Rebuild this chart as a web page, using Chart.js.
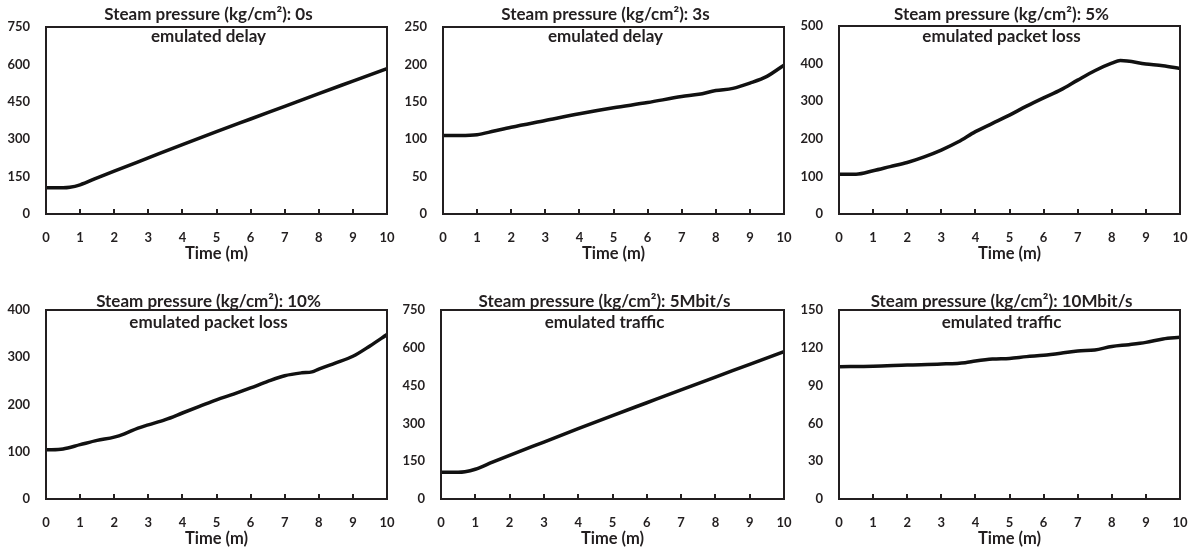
<!DOCTYPE html>
<html>
<head>
<meta charset="utf-8">
<script src="https://cdn.jsdelivr.net/npm/chart.js"></script>
<style>
    body { margin: 0; background: #fff; width: 1190px; height: 548px; position: relative; overflow: hidden; }
    canvas { position: absolute; }
</style>
</head>
<body>
<script>
// Dados (tempo em minutos, pressão em kg/cm²)
const tempo0s = [0, 0.5, 0.7, 1, 1.5, 2, 3, 4, 5, 6, 7, 8, 9, 10];
const pressao0s = [105, 105, 107, 117, 145, 172, 225, 278, 330, 381, 432, 483, 533, 583];

const tempo3s = [0, 0.5, 1, 1.5, 2, 3, 4, 5, 6, 7, 7.5, 8, 8.5, 9, 9.5, 10];
const pressao3s = [105, 105, 106, 111, 116, 125, 134, 142, 149, 157, 160, 165, 168, 175, 184, 199];

const tempoPerda5 = [0, 0.5, 1, 1.5, 2, 2.5, 3, 3.5, 4, 4.5, 5, 5.5, 6, 6.5, 7, 7.5, 8, 8.25, 9, 9.5, 10];
const pressaoPerda5 = [106, 106, 115, 126, 137, 152, 170, 192, 219, 241, 263, 287, 309, 330, 356, 381, 401, 408, 399, 394, 387];

const tempoPerda10 = [0, 0.5, 1, 1.5, 2, 2.3, 2.7, 3, 3.5, 4, 4.5, 5, 5.5, 6, 6.5, 7, 7.5, 7.8, 8, 8.5, 9, 9.5, 10];
const pressaoPerda10 = [104, 106, 115, 124, 131, 138, 150, 157, 168, 182, 196, 210, 222, 235, 249, 261, 267, 269, 275, 288, 302, 324, 348];

const tempo5M = [0, 0.5, 0.7, 1, 1.5, 2, 3, 4, 5, 6, 7, 8, 9, 10];
const pressao5M = [106, 106, 108, 118, 146, 173, 226, 279, 331, 382, 433, 484, 534, 585];

const tempo10M = [0, 1, 2, 3, 3.7, 4, 4.5, 5, 5.5, 6, 6.5, 7, 7.5, 8, 8.5, 9, 9.5, 10];
const pressao10M = [105, 105.3, 106.3, 107.1, 108.2, 109.5, 111.1, 111.6, 113, 114, 115.6, 117.5, 118.3, 121, 122.5, 124.3, 127, 128.3];

// Escalas do eixo Y de cada gráfico
const maximosY = [750, 250, 500, 400, 750, 150];
const passosY = [150, 50, 100, 100, 150, 30];
const ticksX = [0, 1, 2, 3, 4, 5, 6, 7, 8, 9, 10];

const titulos = [
    ['Steam pressure (kg/cm²): 0s', 'emulated delay'],
    ['Steam pressure (kg/cm²): 3s', 'emulated delay'],
    ['Steam pressure (kg/cm²): 5%', 'emulated packet loss'],
    ['Steam pressure (kg/cm²): 10%', 'emulated packet loss'],
    ['Steam pressure (kg/cm²): 5Mbit/s', 'emulated traffic'],
    ['Steam pressure (kg/cm²): 10Mbit/s', 'emulated traffic']
];

const series = [
    [tempo0s, pressao0s],
    [tempo3s, pressao3s],
    [tempoPerda5, pressaoPerda5],
    [tempoPerda10, pressaoPerda10],
    [tempo5M, pressao5M],
    [tempo10M, pressao10M]
];

// Área de plotagem de cada gráfico na página (px)
const areas = [
    { l: 46, t: 27, r: 387, b: 214, topo: 0, dy1: -12, dy2: 10 },
    { l: 443, t: 27, r: 784, b: 214, topo: 0, dy1: -12, dy2: 10 },
    { l: 839, t: 26, r: 1180, b: 214, topo: 0, dy1: -11, dy2: 11 },
    { l: 46, t: 310, r: 387, b: 499, topo: 274, dy1: -8, dy2: 13 },
    { l: 441, t: 310, r: 784, b: 499, topo: 274, dy1: -8, dy2: 13 },
    { l: 839, t: 310, r: 1180, b: 499, topo: 274, dy1: -8, dy2: 13 }
];

const corTexto = '#231f20';
const fonte = 'Lato';
const alturaEixoX = 50;

// Moldura e título dentro/sobre a área do gráfico
const molduraTitulo = {
    id: 'molduraTitulo',
    afterDraw(chart, args, opts) {
        const ctx = chart.ctx;
        const a = chart.chartArea;
        ctx.save();
        ctx.strokeStyle = corTexto;
        ctx.lineWidth = 2;
        ctx.strokeRect(a.left, a.top, a.right - a.left, a.bottom - a.top);
        ctx.font = 'bold 17px ' + fonte;
        ctx.fillStyle = corTexto;
        ctx.textAlign = 'center';
        ctx.textBaseline = 'middle';
        const cx = (a.left + a.right) / 2 - 8;
        ctx.fillText(opts.linhas[0], cx, a.top + opts.dy1);
        ctx.fillText(opts.linhas[1], cx, a.top + opts.dy2);
        ctx.restore();
    }
};

for (let i = 0; i < 6; i++) {
    const ar = areas[i];
    const canvas = document.createElement('canvas');
    const largura = ar.r - ar.l + 45 + 10;
    const altura = ar.b - ar.topo + alturaEixoX;
    canvas.width = largura;
    canvas.height = altura;
    canvas.style.left = (ar.l - 45) + 'px';
    canvas.style.top = ar.topo + 'px';
    canvas.style.width = largura + 'px';
    canvas.style.height = altura + 'px';
    document.body.appendChild(canvas);

    const pontos = series[i][0].map((x, k) => ({ x: x, y: series[i][1][k] }));

    new Chart(canvas.getContext('2d'), {
        type: 'line',
        data: {
            datasets: [{
                data: pontos,
                borderColor: '#111',
                borderWidth: 3.5,
                pointRadius: 0,
                cubicInterpolationMode: 'monotone',
                fill: false
            }]
        },
        options: {
            responsive: false,
            animation: false,
            events: [],
            layout: { padding: { left: 0, top: ar.t - ar.topo, right: 10, bottom: 0 } },
            plugins: {
                legend: { display: false },
                tooltip: { enabled: false },
                molduraTitulo: { linhas: titulos[i], dy1: ar.dy1, dy2: ar.dy2 }
            },
            scales: {
                x: {
                    type: 'linear',
                    min: 0,
                    max: 10,
                    afterFit: (s) => {
                        s.height = alturaEixoX;
                        s.paddingLeft = 0;
                        s.paddingRight = 0;
                    },
                    afterBuildTicks: (s) => { s.ticks = ticksX.map(v => ({ value: v })); },
                    grid: { drawOnChartArea: false, drawTicks: true, tickLength: -5, color: corTexto, lineWidth: 2 },
                    border: { display: false },
                    ticks: {
                        autoSkip: false,
                        maxRotation: 0,
                        padding: 21,
                        color: corTexto,
                        font: { family: fonte, size: 13, weight: 'bold' }
                    },
                    title: {
                        display: true,
                        text: 'Time (m)',
                        color: corTexto,
                        padding: { top: 0, bottom: 0 },
                        font: { family: fonte, size: 16.5, weight: 'bold' }
                    }
                },
                y: {
                    min: 0,
                    max: maximosY[i],
                    afterFit: (s) => { s.width = 45; },
                    grid: { display: false, drawTicks: false },
                    border: { display: false },
                    ticks: {
                        stepSize: passosY[i],
                        padding: 16,
                        color: corTexto,
                        font: { family: fonte, size: 13, weight: 'bold' }
                    }
                }
            }
        },
        plugins: [molduraTitulo]
    });
}
</script>
</body>
</html>
